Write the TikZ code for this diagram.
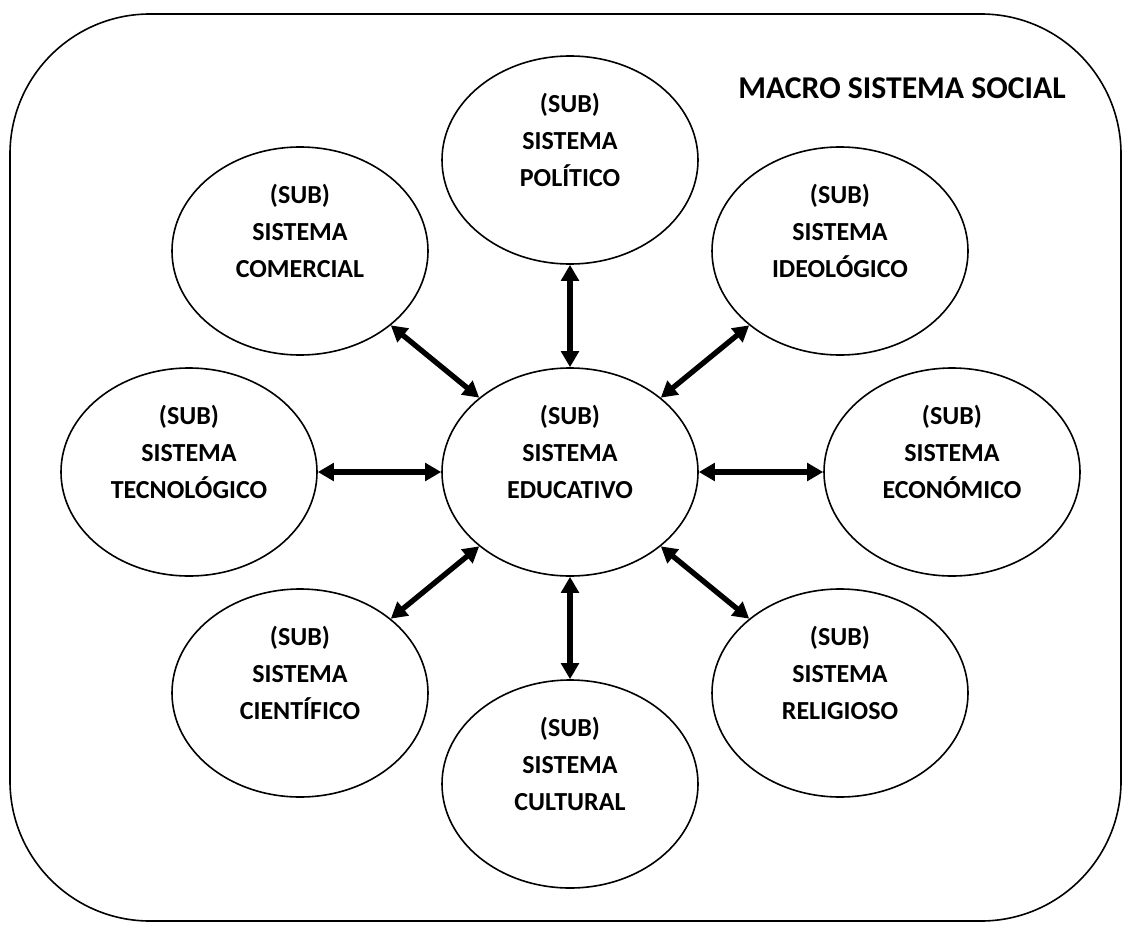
\documentclass[tikz,border=0pt]{standalone}
\usepackage{fontspec}
\setmainfont{Carlito}
\usetikzlibrary{shapes.geometric,arrows.meta}

\begin{document}
\begin{tikzpicture}[x=0.75pt,y=0.75pt,yscale=-1,xscale=1,
	sub/.style={draw, ellipse, line width=1.2pt, minimum width=192pt, minimum height=156pt, inner sep=0pt},
	subtext/.style={align=center, inner sep=0pt, font=\fontsize{19.5pt}{27.75pt}\selectfont\bfseries},
	link/.style={line width=4pt, {Triangle[length=12pt,width=13pt]}-{Triangle[length=12pt,width=13pt]}}]
	\useasboundingbox (0,0) rectangle (1123,924);
	\draw [line width=1.2pt, rounded corners=105pt] (10,14) rectangle (1121,921);
	\node [inner sep=0pt, font=\fontsize{23.8pt}{28pt}\selectfont\bfseries] (macro) at (902,88) {MACRO SISTEMA SOCIAL};
	% ellipses
	\node [sub] (pol) at (570,160) {};
	\node [sub] (com) at (300,251) {};
	\node [sub] (ide) at (840,251) {};
	\node [sub] (tec) at (189,472) {};
	\node [sub] (edu) at (570,472) {};
	\node [sub] (eco) at (952,472) {};
	\node [sub] (cie) at (300,693) {};
	\node [sub] (rel) at (840,693) {};
	\node [sub] (cul) at (570,784) {};
	% texts
	\node [subtext] (pol-t) at (570,140) {(SUB)\\SISTEMA\\POLÍTICO};
	\node [subtext] (com-t) at (300,231) {(SUB)\\SISTEMA\\COMERCIAL};
	\node [subtext] (ide-t) at (840,231) {(SUB)\\SISTEMA\\IDEOLÓGICO};
	\node [subtext] (tec-t) at (189,452) {(SUB)\\SISTEMA\\TECNOLÓGICO};
	\node [subtext] (edu-t) at (570,452) {(SUB)\\SISTEMA\\EDUCATIVO};
	\node [subtext] (eco-t) at (952,452) {(SUB)\\SISTEMA\\ECONÓMICO};
	\node [subtext] (cie-t) at (300,673) {(SUB)\\SISTEMA\\CIENTÍFICO};
	\node [subtext] (rel-t) at (840,673) {(SUB)\\SISTEMA\\RELIGIOSO};
	\node [subtext] (cul-t) at (570,764) {(SUB)\\SISTEMA\\CULTURAL};
	% arrows
	\draw [link] (pol) -- (edu);
	\draw [link] (com) -- (edu);
	\draw [link] (ide) -- (edu);
	\draw [link] (tec) -- (edu);
	\draw [link] (eco) -- (edu);
	\draw [link] (cie) -- (edu);
	\draw [link] (rel) -- (edu);
	\draw [link] (cul) -- (edu);
\end{tikzpicture}
\end{document}
